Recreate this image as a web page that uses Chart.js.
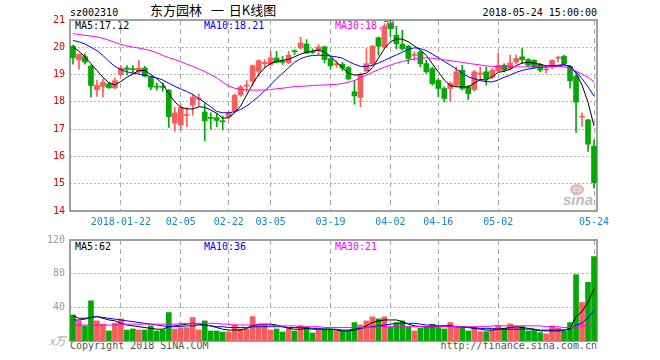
<!DOCTYPE html>
<html><head><meta charset="utf-8">
<script src="https://cdn.jsdelivr.net/npm/chart.js@4.4.0/dist/chart.umd.min.js"></script>
<style>
html,body{margin:0;padding:0;background:#fff;}
#wrap{position:relative;width:660px;height:360px;overflow:hidden;font-family:"DejaVu Sans Mono",monospace;font-size:10px;}
canvas{position:absolute;left:0;z-index:2;}
.t{position:absolute;white-space:nowrap;line-height:12px;z-index:1;}
.cjk{font-family:'Noto Sans CJK SC';font-size:13px;line-height:18px;color:#000;top:1px;}
</style></head><body>
<div id="wrap">
<div class="t" style="left:70px;top:7px;color:#000">sz002310</div>
<div class="t cjk" style="left:150px;">东方园林 <span style="display:inline-block;width:17px;text-align:center;margin-left:4px">一</span> 日K线图</div>
<div class="t" style="right:63px;top:7px;color:#000">2018-05-24 15:00:00</div>
<div class="t" style="left:75px;top:20px;color:#000">MA5:17.12</div>
<div class="t" style="left:204px;top:20px;color:#0000ff">MA10:18.21</div>
<div class="t" style="left:335px;top:20px;color:#ff00ff">MA30:18.74</div>
<div class="t" style="left:75px;top:241px;color:#000">MA5:62</div>
<div class="t" style="left:204px;top:241px;color:#0000ff">MA10:36</div>
<div class="t" style="left:335px;top:241px;color:#ff00ff">MA30:21</div>
<div class="t" style="left:49px;top:333px;font-family:'Noto Sans CJK SC';font-size:11px;line-height:14px;color:#aaa;font-style:italic">x万</div>
<div class="t" style="left:70px;top:340px;color:#555">Copyright 2018 SINA.COM</div>
<div class="t" style="right:63px;top:340px;color:#555">http://finance.sina.com.cn</div>
<div style="position:absolute;left:570px;top:184px;width:14px;height:11px;border:3px solid #e6b8b8;border-radius:50%;z-index:1;box-sizing:border-box"></div>
<div style="position:absolute;left:574px;top:187px;width:6px;height:5px;background:#cfcfcf;border-radius:50%;z-index:1"></div>
<div class="t" style="left:563px;top:193px;font-family:'Liberation Sans';font-weight:bold;font-style:italic;font-size:15px;line-height:14px;color:#bdbdbd">sina</div>
<canvas id="c1" width="660" height="235" style="top:0"></canvas>
<canvas id="c2" width="660" height="135" style="top:225px"></canvas>
</div>
<script>
const dates = ['2018-01-10','2018-01-11','2018-01-12','2018-01-15','2018-01-16','2018-01-17','2018-01-18','2018-01-19','2018-01-22','2018-01-23','2018-01-24','2018-01-25','2018-01-26','2018-01-29','2018-01-30','2018-01-31',
'2018-02-01','2018-02-02','2018-02-05','2018-02-06','2018-02-07','2018-02-08','2018-02-09','2018-02-12','2018-02-13','2018-02-14','2018-02-22','2018-02-23','2018-02-26','2018-02-27','2018-02-28',
'2018-03-01','2018-03-02','2018-03-05','2018-03-06','2018-03-07','2018-03-08','2018-03-09','2018-03-12','2018-03-13','2018-03-14','2018-03-15','2018-03-16','2018-03-19','2018-03-20','2018-03-21','2018-03-22','2018-03-23','2018-03-26','2018-03-27','2018-03-28','2018-03-29','2018-03-30',
'2018-04-02','2018-04-03','2018-04-04','2018-04-09','2018-04-10','2018-04-11','2018-04-12','2018-04-13','2018-04-16','2018-04-17','2018-04-18','2018-04-19','2018-04-20','2018-04-23','2018-04-24','2018-04-25','2018-04-26','2018-04-27',
'2018-05-02','2018-05-03','2018-05-04','2018-05-07','2018-05-08','2018-05-09','2018-05-10','2018-05-11','2018-05-14','2018-05-15','2018-05-16','2018-05-17','2018-05-18','2018-05-21','2018-05-22','2018-05-23','2018-05-24'];

const open = [20.04,19.53,19.66,19.31,18.44,18.56,18.66,18.51,19.00,19.24,
19.21,19.09,19.24,18.91,18.57,18.55,18.43,17.22,17.15,17.50,
17.88,18.10,17.63,17.43,17.42,17.30,17.45,17.66,18.25,18.58,
18.76,19.12,19.40,19.37,19.61,19.48,19.43,19.86,19.98,20.12,
19.84,19.89,20.02,19.58,19.36,19.38,19.26,18.37,18.16,19.13,
19.40,20.35,20.01,20.87,20.44,20.11,20.04,19.70,19.83,19.40,
19.22,18.79,18.49,18.49,18.61,19.16,18.55,18.45,19.02,19.10,
18.91,19.13,19.34,19.22,19.46,19.65,19.55,19.52,19.38,19.17,
19.28,19.60,19.67,19.30,18.94,17.44,17.34,16.38];
const high = [20.08,19.76,19.76,19.34,18.80,18.84,18.71,18.88,19.33,19.33,
19.33,19.51,19.30,18.93,18.69,18.69,18.45,17.80,17.90,17.79,
18.28,18.29,17.96,17.60,17.57,17.48,17.66,18.30,18.60,18.79,
19.35,19.55,19.55,19.85,19.85,19.67,19.85,19.91,20.37,20.28,
19.94,20.10,20.04,19.65,19.50,19.45,19.30,18.79,19.06,19.95,
20.07,20.38,20.87,20.99,20.77,20.62,20.07,19.83,19.89,19.52,
19.28,18.85,18.55,18.73,19.28,19.34,18.60,19.16,19.28,19.28,
19.22,19.79,19.40,19.71,19.71,19.95,19.59,19.55,19.40,19.28,
19.55,19.67,19.71,19.34,18.97,17.60,17.36,16.60];
const low = [19.38,19.20,19.38,18.17,18.20,18.17,18.50,18.48,18.96,19.00,
19.04,19.06,18.91,18.45,18.43,18.39,17.06,16.92,16.97,17.09,
17.51,17.85,16.57,17.00,17.09,16.97,17.40,17.60,18.20,18.37,
18.60,18.94,19.24,19.33,19.43,19.37,19.40,19.73,19.94,19.77,
19.77,19.73,19.43,19.20,19.26,19.15,18.80,17.91,17.82,19.10,
19.34,19.71,19.95,20.38,19.95,19.89,19.40,19.52,19.28,19.04,
18.61,18.18,18.00,18.00,18.55,18.43,18.08,18.40,18.79,18.61,
18.85,19.10,19.10,19.16,19.40,19.40,19.28,19.22,19.10,19.06,
19.22,19.46,19.38,18.50,16.88,17.10,16.18,14.84];
const close = [19.61,19.74,19.46,18.60,18.61,18.72,18.51,18.78,19.24,19.19,
19.18,19.24,18.94,18.54,18.54,18.53,17.46,17.60,17.79,17.52,
18.18,18.13,17.30,17.39,17.32,17.27,17.60,18.24,18.55,18.62,
19.33,19.51,19.45,19.61,19.45,19.45,19.71,19.84,20.16,19.79,
19.81,20.01,19.55,19.32,19.38,19.24,18.84,18.22,18.98,19.40,
20.04,20.04,20.77,20.68,20.13,19.95,19.59,19.73,19.40,19.10,
18.67,18.49,18.12,18.67,19.10,18.49,18.30,19.10,19.05,18.85,
19.16,19.34,19.16,19.43,19.59,19.55,19.34,19.28,19.16,19.19,
19.52,19.63,19.40,18.77,17.99,17.47,16.45,15.04];
const volume = [31.0,23.9,17.9,47.8,23.9,19.9,11.9,21.1,26.3,13.1,
14.3,13.1,13.1,17.9,11.9,13.1,33.8,14.3,15.5,15.9,
27.9,13.1,23.9,11.9,11.9,10.7,10.7,19.1,14.3,14.3,
29.0,19.1,19.9,13.1,14.3,10.7,14.3,11.9,18.3,15.5,
9.5,13.1,14.3,14.3,11.9,11.9,11.9,21.9,19.1,23.9,
28.7,26.3,28.7,16.3,21.9,23.9,17.1,11.9,15.1,17.1,
19.9,15.9,14.3,21.9,17.1,17.1,11.9,15.9,11.1,11.1,
13.1,18.3,15.1,20.3,17.1,17.1,11.9,13.1,9.9,8.4,
17.9,15.1,11.9,21.9,78.8,45.8,69.7,100.3];
const ma5 = [20.02,19.85,19.65,19.40,19.15,18.90,18.70,18.62,18.75,18.90,
19.02,19.15,19.15,19.00,18.85,18.65,18.30,18.00,17.80,17.74,
17.74,17.82,17.80,17.70,17.58,17.40,17.42,17.60,17.85,18.25,
18.65,19.00,19.25,19.40,19.48,19.52,19.56,19.65,19.75,19.82,
19.86,19.90,19.82,19.68,19.45,19.25,19.05,18.98,19.00,19.05,
19.25,19.60,19.95,20.20,20.30,20.30,20.20,20.05,19.90,19.70,
19.40,19.10,18.80,18.60,18.55,18.55,18.55,18.68,18.82,18.80,
18.92,19.08,19.12,19.20,19.33,19.42,19.45,19.42,19.38,19.32,
19.32,19.34,19.36,19.30,19.05,18.62,17.98,17.12];
const ma10 = [20.25,20.20,20.12,20.00,19.88,19.70,19.48,19.30,19.18,19.10,
19.05,19.02,18.98,18.93,18.88,18.80,18.68,18.57,18.47,18.38,
18.27,18.12,17.98,17.82,17.65,17.60,17.60,17.64,17.72,17.85,
18.02,18.20,18.40,18.62,18.85,19.05,19.25,19.45,19.58,19.66,
19.70,19.71,19.70,19.68,19.65,19.60,19.48,19.38,19.30,19.30,
19.34,19.42,19.52,19.62,19.72,19.82,19.92,19.98,19.95,19.88,
19.75,19.62,19.48,19.35,19.20,19.05,18.92,18.85,18.78,18.74,
18.73,18.80,18.90,18.98,19.08,19.15,19.20,19.24,19.27,19.28,
19.30,19.33,19.36,19.30,19.10,18.85,18.55,18.21];
const ma30 = [20.50,20.47,20.44,20.41,20.38,20.33,20.26,20.18,20.10,20.05,
20.01,19.97,19.93,19.88,19.80,19.70,19.62,19.55,19.47,19.38,
19.30,19.21,19.11,19.00,18.88,18.72,18.58,18.50,18.46,18.44,
18.43,18.43,18.43,18.45,18.48,18.50,18.53,18.56,18.57,18.58,
18.60,18.61,18.62,18.63,18.64,18.68,18.72,18.78,18.88,18.98,
19.08,19.18,19.27,19.35,19.42,19.48,19.53,19.57,19.60,19.61,
19.60,19.57,19.54,19.51,19.48,19.45,19.41,19.38,19.35,19.32,
19.30,19.29,19.28,19.28,19.28,19.28,19.28,19.28,19.28,19.28,
19.29,19.30,19.29,19.22,19.12,19.02,18.90,18.74];
const vma5 = [30,27,27,28,29,27,25,24,21,19,
18,17,16,15,14,14,17,18,19,20,
21,20,19,18,16,14,13,13,13,15,
18,20,20,20,19,17,15,14,14,15,
14,14,14,14,13,12,12,13,15,18,
22,24,25,25,25,23,20,18,17,17,
17,17,18,18,17,17,16,15,14,13,
13,14,15,16,17,16,15,14,12,12,
12,12,13,15,29,35,46,62];
const vma10 = [25,25,26,28,29,28,27,26,25,24,
23,22,21,20,19,18,17,17,17,18,
18,19,19,18,17,17,16,16,16,16,
17,17,17,17,17,17,16,16,16,16,
15,15,14,14,14,13,13,14,15,16,
17,18,19,20,21,21,21,21,20,19,
19,18,18,18,17,17,16,16,15,15,
15,14,14,14,14,14,14,14,13,13,
13,13,13,14,19,21,28,36];
const vma30 = [19,19,19,19,19,19,19,19,20,20,
20,20,20,20,20,20,20,20,21,21,
21,21,21,21,21,20,20,19,19,19,
19,19,19,19,18,18,18,18,17,17,
17,17,16,16,16,16,16,16,16,16,
16,17,17,17,17,17,17,17,17,17,
17,17,17,17,17,17,17,17,17,17,
18,18,18,18,18,18,18,18,18,17,
17,17,16,16,17,18,19,21];
const priceTicks = [14,15,16,17,18,19,20,21];
const volTicks = [0,40,80,120];
const dateTicks = ['2018-01-22','2018-02-05','2018-02-22','2018-03-05','2018-03-19','2018-04-02','2018-04-16','2018-05-02','2018-05-24'];
const dateTickText = ['2018-01-22','02-05','02-22','03-05','03-19','04-02','04-16','05-02','05-24'];

const RED = '#f65d5d', GREEN = '#05a805';
const colors = close.map((c,i)=> c >= open[i] ? RED : GREEN);
const markIdx = dateTicks.map(d => dates.indexOf(d));
const MONO = 'DejaVu Sans Mono';

const frame = {id:'frame', beforeDatasetsDraw(chart){
  const {ctx, chartArea:a} = chart;
  ctx.save(); ctx.strokeStyle='#a0a0a0'; ctx.lineWidth=2;
  ctx.strokeRect(a.left, a.top, a.right-a.left, a.bottom-a.top);
  ctx.restore();
}};

function xScale(showLabels, h){
  return {
    type:'category', offset:true,
    grid:{offset:false, drawTicks:false, lineWidth:1, color:(c)=> markIdx.includes(c.index) ? '#a8a8a8' : 'rgba(0,0,0,0)'},
    border:{display:false, dash:[5,4]},
    ticks:{display:showLabels, autoSkip:false, maxRotation:0, minRotation:0, padding:5, color:'#1a84d8',
      font:{family:MONO, size:10},
      callback:(v,i)=>{const k = markIdx.indexOf(i); return k >= 0 ? dateTickText[k] : '';}},
    afterFit:(s)=>{s.height = h;}
  };
}
function lineDs(data, color){
  return {type:'line', data, borderColor:color, borderWidth:1, pointRadius:0, tension:0, fill:false, order:1};
}
const common = {responsive:false, animation:false, devicePixelRatio:1,
  plugins:{legend:{display:false}, tooltip:{enabled:false}}};

new Chart(document.getElementById('c1'), {
  type:'bar',
  data:{labels:dates, datasets:[
    {type:'bar', data:dates.map((d,i)=>[low[i],high[i]]), backgroundColor:colors, barThickness:1, grouped:false, order:3},
    {type:'bar', data:dates.map((d,i)=>[open[i],close[i]]), backgroundColor:colors, barThickness:5, minBarLength:1, grouped:false, order:2},
    lineDs(ma30,'#ff00ff'), lineDs(ma10,'#0000ff'), lineDs(ma5,'#000000')
  ]},
  options:Object.assign({}, common, {
    layout:{padding:{top:20, right:63, left:0, bottom:0}},
    scales:{
      x:xScale(true, 24),
      y:{min:14, max:21,
        afterBuildTicks:(s)=>{s.ticks = priceTicks.map(v=>({value:v}));},
        grid:{drawTicks:false, color:'#b4b4b4', lineWidth:1},
        border:{display:false, dash:[2,2]},
        ticks:{color:'#e80000', padding:5, font:{family:MONO, size:10}},
        afterFit:(s)=>{s.width = 70;}}
    }
  }),
  plugins:[frame]
});

new Chart(document.getElementById('c2'), {
  type:'bar',
  data:{labels:dates, datasets:[
    {type:'bar', data:volume, backgroundColor:colors, barThickness:5, grouped:false, order:2},
    lineDs(vma30,'#ff00ff'), lineDs(vma10,'#0000ff'), lineDs(vma5,'#000000')
  ]},
  options:Object.assign({}, common, {
    layout:{padding:{top:15, right:63, left:0, bottom:0}},
    scales:{
      x:xScale(false, 19),
      y:{min:0, max:120,
        afterBuildTicks:(s)=>{s.ticks = volTicks.map(v=>({value:v}));},
        grid:{drawTicks:false, color:'#b4b4b4', lineWidth:1},
        border:{display:false, dash:[2,2]},
        ticks:{color:'#999', padding:5, font:{family:MONO, size:10}, callback:(v)=> v === 0 ? '' : String(v)},
        afterFit:(s)=>{s.width = 70;}}
    }
  }),
  plugins:[frame]
});
</script>
</body></html>
